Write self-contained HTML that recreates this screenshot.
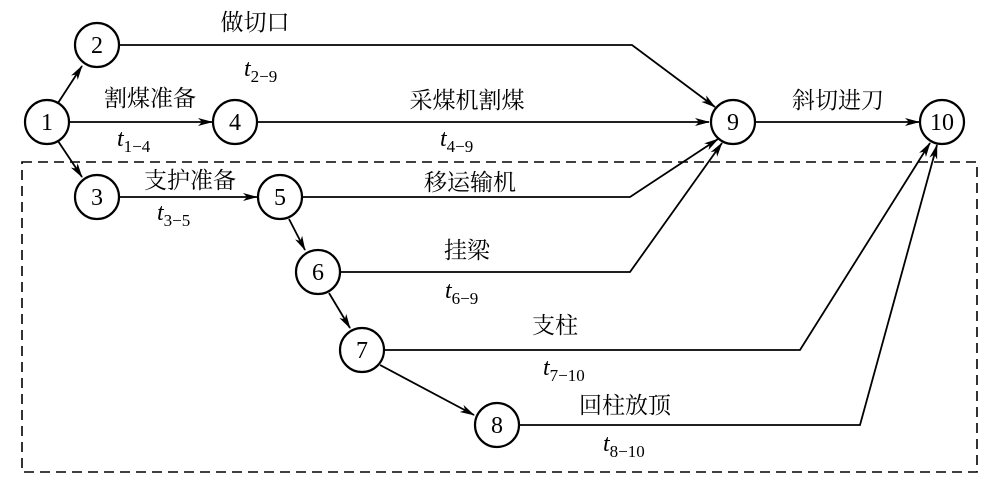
<!DOCTYPE html>
<html><head><meta charset="utf-8"><style>
html,body{margin:0;padding:0;background:#fff;}
svg text{font-family:"Liberation Serif","Noto Serif CJK SC","Noto Sans CJK SC",serif;fill:#000;}
.cj{font-family:"Liberation Sans","Noto Sans CJK SC",sans-serif;font-size:23px;}
.t{font-size:24px;font-style:italic;}
.s{font-size:17px;font-style:normal;}
</style></head><body>
<svg width="997" height="498" viewBox="0 0 997 498" xmlns="http://www.w3.org/2000/svg">
<defs><marker id="a" markerWidth="15" markerHeight="10" refX="14" refY="5" orient="auto" markerUnits="userSpaceOnUse"><path d="M0,1 L15,5 L0,9 L4,5 Z" fill="#000"/></marker></defs>
<rect x="22" y="162" width="955" height="310" fill="none" stroke="#000" stroke-width="1.6" stroke-dasharray="10,6"/>
<g fill="none" stroke="#000" stroke-width="1.8" marker-end="url(#a)">
<line x1="58" y1="103" x2="82" y2="66"/>
<line x1="58" y1="141" x2="82" y2="177"/>
<line x1="69" y1="122" x2="212" y2="122"/>
<polyline points="120,45 632,45 715,107"/>
<line x1="258" y1="122" x2="709" y2="122"/>
<line x1="120" y1="197" x2="257" y2="197"/>
<polyline points="303,197 630,197 718,139"/>
<polyline points="341,272 630,272 722,143"/>
<line x1="289" y1="219" x2="305" y2="250"/>
<line x1="329" y1="293" x2="350" y2="328"/>
<line x1="380" y1="365" x2="474" y2="415"/>
<line x1="756" y1="122" x2="919" y2="122"/>
<polyline points="385,350 800,350 930,143"/>
<polyline points="520,425 860,425 937,145"/>
</g>
<g fill="#fff" stroke="#000" stroke-width="2.2">
<circle cx="47" cy="122" r="22"/><circle cx="97" cy="45" r="22"/><circle cx="97" cy="197" r="22"/>
<circle cx="235" cy="122" r="22"/><circle cx="280" cy="197" r="22"/><circle cx="318" cy="272" r="22"/>
<circle cx="362" cy="350" r="22"/><circle cx="497" cy="425" r="22"/><circle cx="733" cy="122" r="22"/>
<circle cx="942" cy="122" r="22"/>
</g>
<g font-size="24" text-anchor="middle">
<text x="47" y="130">1</text><text x="97" y="53">2</text><text x="97" y="205">3</text>
<text x="235" y="130">4</text><text x="280" y="205">5</text><text x="318" y="280">6</text>
<text x="362" y="358">7</text><text x="497" y="433">8</text><text x="733" y="130">9</text>
<text x="942" y="130">10</text>
</g>
<g class="cj" text-anchor="middle">
<text x="255" y="30">做切口</text>
<text x="150" y="106">割煤准备</text>
<text x="467" y="108">采煤机割煤</text>
<text x="838" y="108">斜切进刀</text>
<text x="190" y="188">支护准备</text>
<text x="470" y="190">移运输机</text>
<text x="467" y="258">挂梁</text>
<text x="555" y="333">支柱</text>
<text x="625" y="413">回柱放顶</text>
</g>
<g class="t">
<text x="244" y="76">t<tspan class="s" dy="6">2−9</tspan></text>
<text x="117" y="146">t<tspan class="s" dy="6">1−4</tspan></text>
<text x="440" y="146">t<tspan class="s" dy="6">4−9</tspan></text>
<text x="157" y="220">t<tspan class="s" dy="6">3−5</tspan></text>
<text x="445" y="298">t<tspan class="s" dy="6">6−9</tspan></text>
<text x="543" y="375">t<tspan class="s" dy="6">7−10</tspan></text>
<text x="603" y="451">t<tspan class="s" dy="6">8−10</tspan></text>
</g>
</svg>
</body></html>
